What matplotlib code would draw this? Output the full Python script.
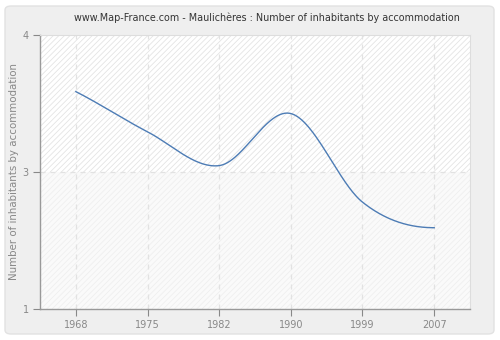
import numpy as np
import matplotlib
matplotlib.use("Agg")
import matplotlib.pyplot as plt
from matplotlib.patches import FancyBboxPatch

years = ["1968", "1975", "1982", "1990", "1999", "2007"]
values = [3.38, 2.94, 2.57, 3.14, 2.17, 1.89]
ytick_vals = [1, 2.5, 4]
ytick_labels = ["1", "3", "4"]

title = "www.Map-France.com - Maulichères : Number of inhabitants by accommodation"
ylabel = "Number of inhabitants by accommodation"

plt.rcParams['hatch.linewidth'] = 0.6

fig = plt.figure(figsize=(5, 3.4), dpi=100)
fig.patch.set_facecolor("white")
panel = FancyBboxPatch((5 / 500, 6 / 340), 489 / 500, 328 / 340,
                       boxstyle="round,pad=0,rounding_size=0.012",
                       transform=fig.transFigure, facecolor="#efefef",
                       edgecolor="#e2e2e2", linewidth=1, zorder=-10)
fig.patches.append(panel)

ax = fig.add_axes([40 / 500, 31 / 340, 430 / 500, 274 / 340])
ax.set_facecolor("white")
ax.set_zorder(1)

x = np.arange(len(years))
y = np.array(values, dtype=float)

# cubic Hermite smoothing through the points
m = np.zeros_like(y)
m[1:-1] = (y[2:] - y[:-2]) / 2.0
m[0] = (y[1] - y[0]) * 0.9
m[-1] = 0.0
xs, ys = [], []
for i in range(len(x) - 1):
    t = np.linspace(0, 1, 60)
    h00 = 2 * t**3 - 3 * t**2 + 1
    h10 = t**3 - 2 * t**2 + t
    h01 = -2 * t**3 + 3 * t**2
    h11 = t**3 - t**2
    xs.append(x[i] + t)
    ys.append(h00 * y[i] + h10 * m[i] + h01 * y[i + 1] + h11 * m[i + 1])
xs = np.concatenate(xs)
ys = np.concatenate(ys)

ax.set_xlim(-0.5, len(years) - 0.5)
ax.set_ylim(1, 4)

ax.axhspan(2.5, 4, facecolor="white", edgecolor="#e4e4e4", hatch="//////", linewidth=0, zorder=0)
ax.axhspan(1, 2.5, facecolor="#fafafa", edgecolor="#efefef", hatch="//////", linewidth=0, zorder=0)

for xi in x:
    ax.axvline(xi, color="#e2e2e2", linestyle=(0, (4, 4)), linewidth=0.9, zorder=1)
ax.axhline(2.5, color="#e2e2e2", linestyle=(0, (4, 4)), linewidth=0.9, zorder=1)

ax.plot(xs, ys, color="#4d7cb5", linewidth=1.0, zorder=3)

ax.set_xticks(x)
ax.set_xticklabels(years)
ax.set_yticks(ytick_vals)
ax.set_yticklabels(ytick_labels)
ax.tick_params(axis="both", colors="#888888", labelcolor="#888888", labelsize=7, length=5, width=0.8, direction="out")
ax.tick_params(axis="x", pad=3)
ax.tick_params(axis="y", pad=3)

for s in ["left", "bottom"]:
    ax.spines[s].set_color("#999999")
    ax.spines[s].set_linewidth(1)
for s in ["top", "right"]:
    ax.spines[s].set_color("#dddddd")
    ax.spines[s].set_linewidth(0.8)

ax.set_ylabel(ylabel, color="#888888", fontsize=7.4)
ax.yaxis.set_label_coords((19 - 40) / 430, 0.5)
fig.text(267 / 500, 1 - 18 / 340, title, ha="center", va="center", fontsize=6.9, color="#333333")

fig.savefig("out.png", dpi=100, facecolor=fig.get_facecolor())
